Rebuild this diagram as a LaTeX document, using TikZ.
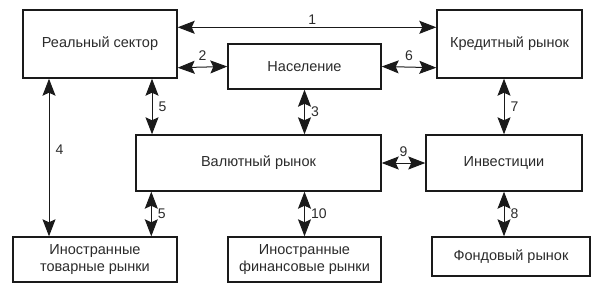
\documentclass[tikz,border=0pt]{standalone}
\usepackage{fontspec}
\setmainfont{Liberation Sans}
\usepackage{tikz}
\usetikzlibrary{arrows.meta}
\definecolor{linea}{HTML}{1A1A1A}
\definecolor{testo}{HTML}{2B2B2B}

\tikzset{
    blocco/.style={draw=linea, line width=1.4pt, fill=white, text=testo,
        align=center, inner sep=0pt, font=\fontsize{14.5}{17}\selectfont},
    punta/.tip={Stealth[length=17pt,width=13pt,inset=3pt]},
    legame/.style={punta-punta, draw=linea, line width=1pt},
    numero/.style={text=testo, inner sep=6pt, font=\fontsize{14}{16}\selectfont},
    numeroo/.style={numero, above},
    numerov/.style={numero, right}
}

\begin{document}
\begin{tikzpicture}[x=1pt, y=-1pt]
        \useasboundingbox (0,0) rectangle (602,287);
        % Blocchi: riga superiore
        \node[blocco, minimum width=154pt, minimum height=68pt] (real) at (100,44) {Реальный сектор};
        \node[blocco, minimum width=153pt, minimum height=45pt] (nas) at (304.5,66.5) {Население};
        \node[blocco, minimum width=145pt, minimum height=68pt] (kred) at (509.5,44) {Кредитный рынок};
        % Riga centrale
        \node[blocco, minimum width=245pt, minimum height=56pt] (val) at (258.5,163) {Валютный рынок};
        \node[blocco, minimum width=156pt, minimum height=56pt] (inv) at (504,163) {Инвестиции};
        % Riga inferiore
        \node[blocco, minimum width=164pt, minimum height=45pt] (tov) at (95,259.5) {Иностранные\\товарные рынки};
        \node[blocco, minimum width=153pt, minimum height=45pt] (fin) at (304.5,259.5) {Иностранные\\финансовые рынки};
        \node[blocco, minimum width=158pt, minimum height=39pt] (fond) at (511,256.5) {Фондовый рынок};
        % Collegamenti orizzontali
        \draw[legame] ([yshift=-18pt]real.north east) -- ([yshift=-18pt]kred.north west)
        node[numeroo, pos=0.52, inner sep=2pt] (n1) {1};
        \draw[legame] ([yshift=11pt]real.south east) -- (nas.west)
        node[numeroo, midway] (n2) {2};
        \draw[legame] (nas.east) -- ([yshift=11pt]kred.south west)
        node[numeroo, midway] (n6) {6};
        \draw[legame] (val.east) -- (inv.west)
        node[numeroo, midway] (n9) {9};
        % Collegamenti verticali
        \draw[legame] ([xshift=-51pt]real.south) -- ([xshift=-51pt]real.south |- tov.north)
        node[numerov, pos=0.45] (n4) {4};
        \draw[legame] ([xshift=52pt]real.south) -- ([xshift=52pt]real.south |- val.north)
        node[numerov, midway] (n5a) {5};
        \draw[legame] (nas.south) -- (nas.south |- val.north)
        node[numerov, midway] (n3) {3};
        \draw[legame] (inv.north |- kred.south) -- (inv.north)
        node[numerov, midway] (n7) {7};
        \draw[legame] ([xshift=16pt]val.south west) -- ([xshift=16pt]val.south west |- tov.north)
        node[numerov, midway] (n5b) {5};
        \draw[legame] (fin.north |- val.south) -- (fin.north)
        node[numerov, midway] (n10) {10};
        \draw[legame] (inv.south) -- (inv.south |- fond.north)
        node[numerov, midway] (n8) {8};
    \end{tikzpicture}
\end{document}
